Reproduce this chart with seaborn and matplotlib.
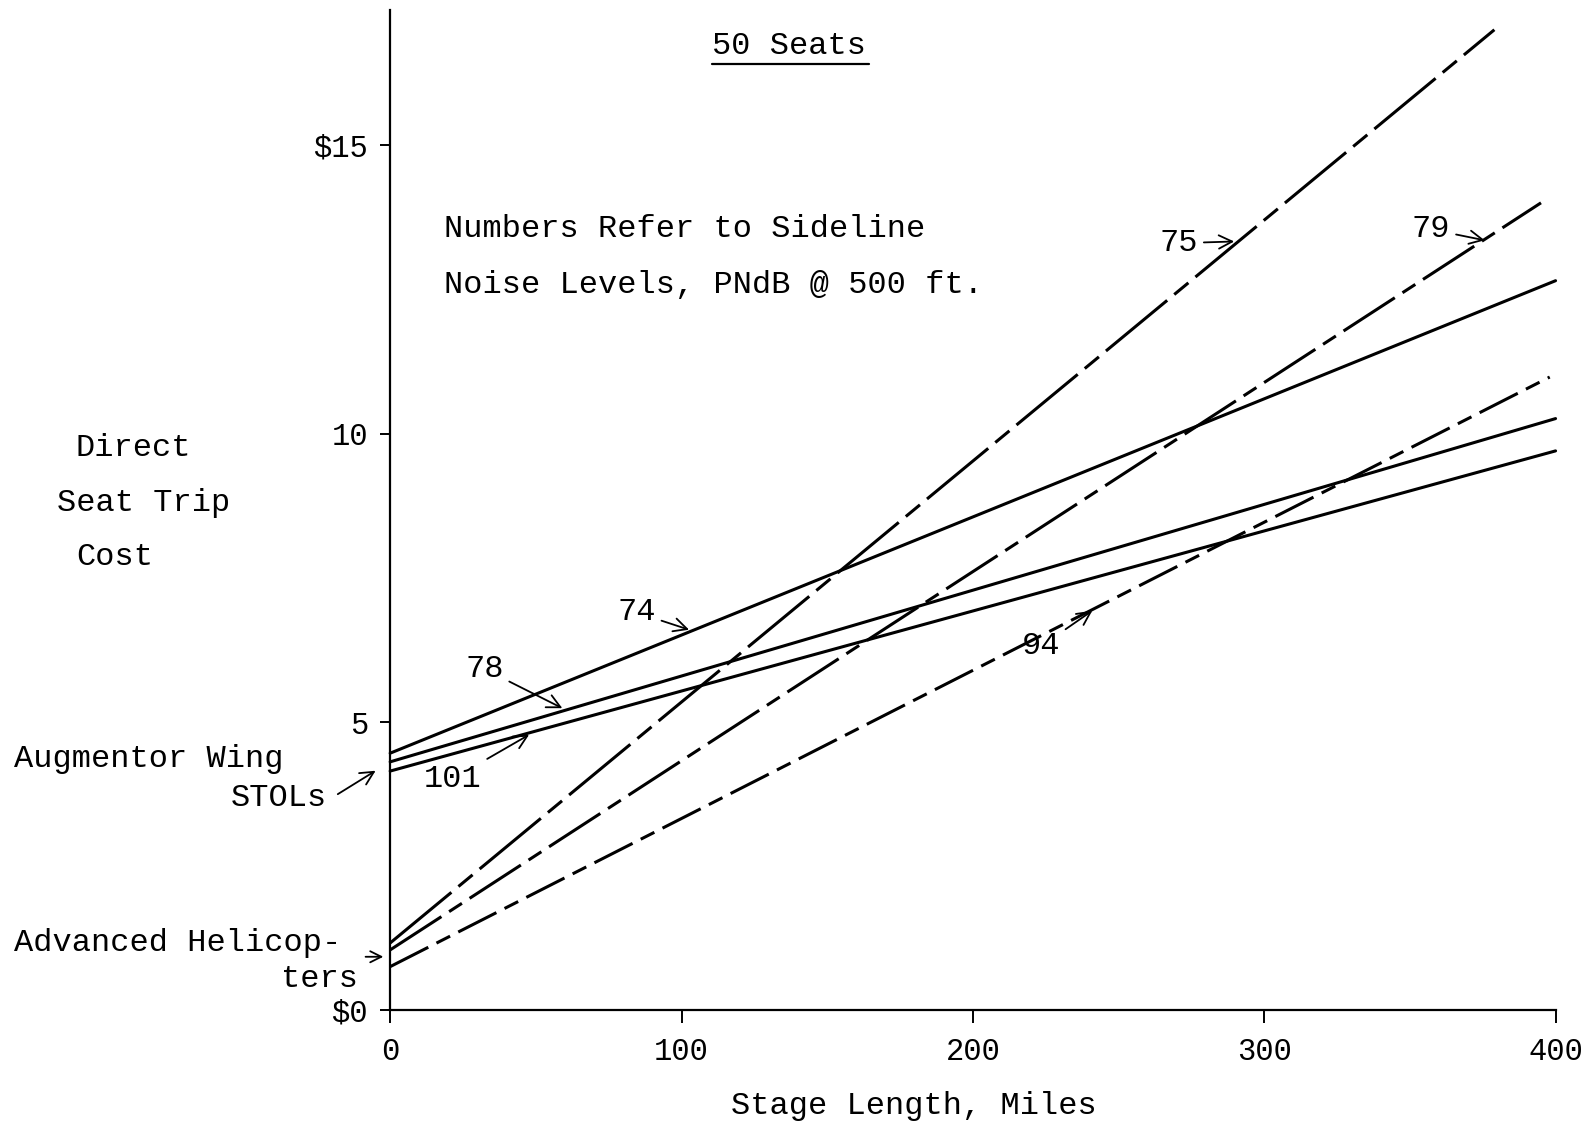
import matplotlib
matplotlib.use("Agg")
import matplotlib.pyplot as plt
from matplotlib.lines import Line2D
import seaborn as sns
import pandas as pd

# ---- data ----
series_names = ["74", "78", "101", "75", "79", "94"]
stage_start = [0, 0, 0, 0, 0, 0]
stage_end = [400, 400, 400, 379, 395, 398]
cost_start = [4.46, 4.31, 4.15, 1.17, 1.05, 0.76]
cost_end = [12.65, 10.26, 9.70, 17.0, 14.0, 10.98]
x_ticks = [0, 100, 200, 300, 400]
x_ticklabels = ["0", "100", "200", "300", "400"]
y_ticks = [0, 5, 10, 15]
y_ticklabels = ["$0", "5", "10", "$15"]

rows = []
for n, x0, x1, y0, y1 in zip(series_names, stage_start, stage_end, cost_start, cost_end):
    rows.append({"series": n, "stage": x0, "cost": y0})
    rows.append({"series": n, "stage": x1, "cost": y1})
df = pd.DataFrame(rows)

sns.set_theme(style="white")
plt.rcParams["font.family"] = ["Liberation Mono", "DejaVu Sans Mono"]
plt.rcParams["text.color"] = "black"

W, H = 1568, 1109  # reference pixel frame used for placement


def fp(x, y):
    return (x / W, 1 - y / H)


fig = plt.figure(figsize=(15.89, 11.24), dpi=100)
ax = fig.add_axes([385 / W, 1 - 997 / H, (1535 - 385) / W, (997 - 10) / H])

dashes = {
    "74": "",
    "78": "",
    "101": "",
    "75": (26, 3, 6, 3),
    "79": (20, 3, 5, 3),
    "94": (14, 3, 5, 3),
}
sns.lineplot(data=df, x="stage", y="cost", style="series", dashes=dashes,
             color="black", linewidth=2.2, legend=False, estimator=None,
             sort=False, ax=ax)
for ln in ax.lines:
    ln.set_clip_on(False)

ax.set_xlim(0, 400)
ax.set_ylim(0, 17.34)
ax.set_xticks(x_ticks)
ax.set_xticklabels(x_ticklabels)
ax.set_yticks(y_ticks)
ax.set_yticklabels(y_ticklabels)
ax.set_xlabel("")
ax.set_ylabel("")
for s in ["top", "right"]:
    ax.spines[s].set_visible(False)
for s in ["left", "bottom"]:
    ax.spines[s].set_color("black")
    ax.spines[s].set_linewidth(1.6)
ax.tick_params(axis="x", bottom=True, direction="out", length=9, width=1.4, pad=10,
               labelsize=22, colors="black")
ax.tick_params(axis="y", left=True, direction="out", length=7, width=1.4, pad=9,
               labelsize=22, colors="black")

fs = 23

# title with underline
ax.text(137, 16.72, "50 Seats", ha="center", va="center", fontsize=fs)
fig.add_artist(Line2D([703 / W, 858 / W], [1 - 63 / H, 1 - 63 / H],
                      color="black", lw=1.6, transform=fig.transFigure))

ax.text(18.4, 13.54, "Numbers Refer to Sideline", ha="left", va="center", fontsize=fs)
ax.text(18.4, 12.58, "Noise Levels, PNdB @ 500 ft.", ha="left", va="center", fontsize=fs)

# y-axis label block
fig.text(*fp(131, 442), "Direct", ha="center", va="center", fontsize=fs)
fig.text(*fp(142, 496), "Seat Trip", ha="center", va="center", fontsize=fs)
fig.text(*fp(113, 550), "Cost", ha="center", va="center", fontsize=fs)

# x-axis label
fig.text(*fp(902, 1091), "Stage Length, Miles", ha="center", va="center", fontsize=fs)

# left-side group labels
fig.text(*fp(14, 749), "Augmentor Wing", ha="left", va="center", fontsize=fs)
fig.text(*fp(323, 787), "STOLs", ha="right", va="center", fontsize=fs)
ax.annotate("", xy=fp(373, 759), xycoords="figure fraction",
            xytext=fp(331, 785), textcoords="figure fraction",
            arrowprops=dict(arrowstyle="->", color="black", lw=1.3,
                            mutation_scale=24), annotation_clip=False)
fig.text(*fp(14, 930), "Advanced Helicop-", ha="left", va="center", fontsize=fs)
fig.text(*fp(353, 966), "ters", ha="right", va="center", fontsize=fs)
ax.annotate("", xy=fp(381, 944), xycoords="figure fraction",
            xytext=fp(358, 944), textcoords="figure fraction",
            arrowprops=dict(arrowstyle="->", color="black", lw=1.3,
                            mutation_scale=20), annotation_clip=False)

# series labels with arrows
ann = [
    ("74", (84.5, 6.90), (102.6, 6.60)),
    ("78", (32.3, 5.92), (59.1, 5.24)),
    ("101", (21.6, 4.02), (47.7, 4.78)),
    ("75", (270.6, 13.30), (289.7, 13.33)),
    ("79", (357.2, 13.54), (375.7, 13.35)),
    ("94", (223.3, 6.31), (241.0, 6.93)),
]
for lab, xyt, xy in ann:
    ax.annotate(lab, xy=xy, xytext=xyt, ha="center", va="center", fontsize=fs,
                arrowprops=dict(arrowstyle="->", color="black", lw=1.3,
                                mutation_scale=24, shrinkA=2, shrinkB=0))

fig.savefig("out.png", dpi=100, facecolor="white")
